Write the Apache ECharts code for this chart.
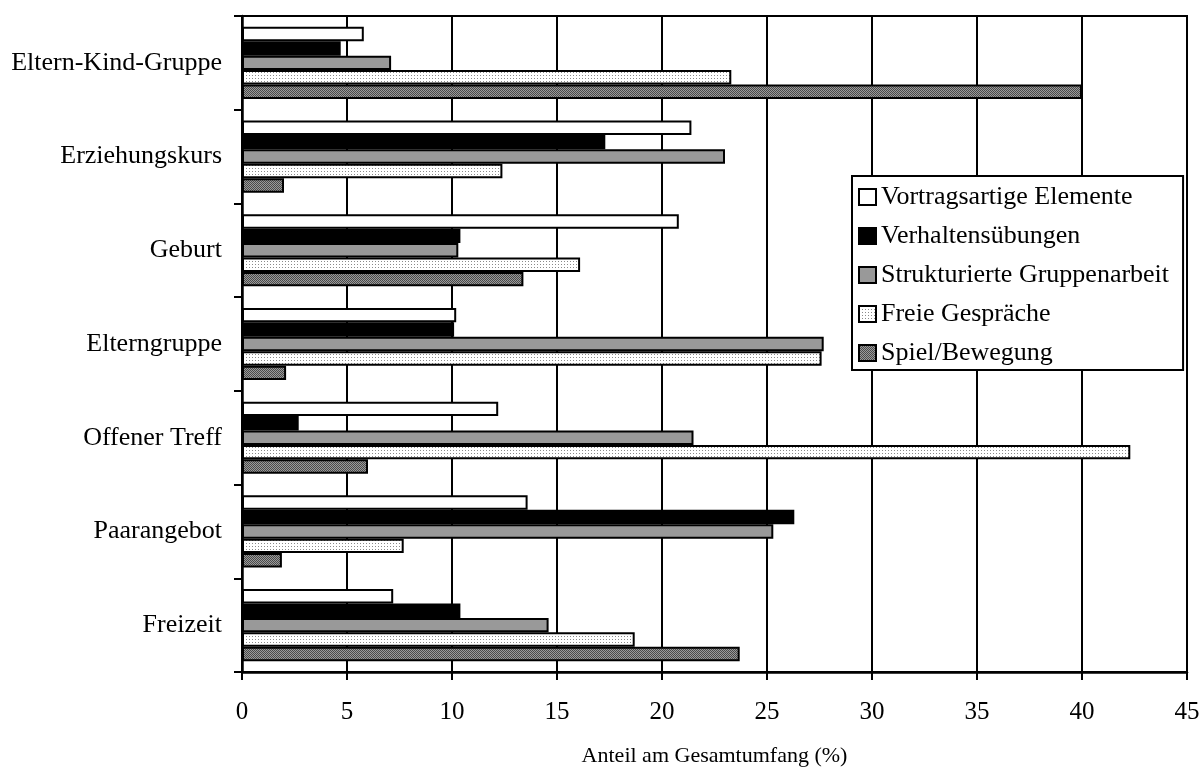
<!DOCTYPE html>
<html><head><meta charset="utf-8">
<script src="https://cdn.jsdelivr.net/npm/echarts@6/dist/echarts.min.js"></script>
<style>html,body{margin:0;padding:0;background:#fff}#c{width:1201px;height:770px}</style>
</head><body><div id="c"></div>
<script>
const categories = ['Eltern-Kind-Gruppe','Erziehungskurs','Geburt','Elterngruppe','Offener Treff','Paarangebot','Freizeit'];
const seriesNames = ['Vortragsartige Elemente','Verhaltensübungen','Strukturierte Gruppenarbeit','Freie Gespräche','Spiel/Bewegung'];
const vortrag   = [5.8, 21.4, 20.8, 10.2, 12.2, 13.6, 7.2];
const verhalten = [4.7, 17.3, 10.4, 10.1, 2.7, 26.3, 10.4];
const struktur  = [7.1, 23.0, 10.3, 27.7, 21.5, 25.3, 14.6];
const freie     = [23.3, 12.4, 16.1, 27.6, 42.3, 7.7, 18.7];
const spiel     = [40.0, 2.0, 13.4, 2.1, 6.0, 1.9, 23.7];
const xTicks = {min: 0, max: 45, interval: 5};
const axisTitle = 'Anteil am Gesamtumfang (%)';

function pattern(size, bg, dots) {
  const c = document.createElement('canvas');
  c.width = size; c.height = size;
  const g = c.getContext('2d');
  g.fillStyle = bg; g.fillRect(0, 0, size, size);
  dots.forEach(d => { g.fillStyle = d[2]; g.fillRect(d[0], d[1], 1, 1); });
  return {image: c, repeat: 'repeat'};
}
const lightPat = pattern(3, '#ffffff', [[0,0,'#8a8a8a']]);
const darkPat = pattern(2, '#9a9a9a', [[0,0,'#4a4a4a'],[1,1,'#4a4a4a']]);

const fills = ['#ffffff', '#000000', '#999999', lightPat, darkPat];
const values = [vortrag, verhalten, struktur, freie, spiel];
const font = 'Liberation Serif';

const chart = echarts.init(document.getElementById('c'), null, {renderer: 'canvas'});
chart.setOption({
  animation: false,
  backgroundColor: '#fff',
  textStyle: {fontFamily: font, color: '#000'},
  grid: {left: 242, right: 14, top: 16, bottom: 98, containLabel: false, outerBoundsMode: 'none',
         show: true, borderColor: '#000', borderWidth: 2, backgroundColor: 'transparent'},
  legend: {
    data: seriesNames.map(n => ({name: n, icon: 'rect'})),
    orient: 'vertical',
    left: 852, top: 176,
    itemWidth: 17, itemHeight: 16, itemGap: 13,
    padding: [8, 14, 4, 6],
    backgroundColor: '#fff', borderColor: '#000', borderWidth: 2,
    textStyle: {fontFamily: font, fontSize: 26, color: '#000'},
    itemStyle: {borderColor: '#000', borderWidth: 2},
    selectedMode: false
  },
  xAxis: {
    type: 'value', min: xTicks.min, max: xTicks.max, interval: xTicks.interval,
    name: axisTitle, nameLocation: 'middle', nameGap: 73,
    nameTextStyle: {fontFamily: font, fontSize: 22, color: '#000'},
    axisLine: {show: true, lineStyle: {color: '#000', width: 2.5}},
    axisTick: {show: true, length: 8, lineStyle: {color: '#000', width: 2}},
    axisLabel: {fontFamily: font, fontSize: 25, color: '#000', margin: 28},
    splitLine: {show: true, lineStyle: {color: '#000', width: 2}}
  },
  yAxis: {
    type: 'category', data: categories, inverse: true,
    axisLine: {show: true, lineStyle: {color: '#000', width: 2.5}},
    axisTick: {show: true, length: 8, lineStyle: {color: '#000', width: 2}},
    axisLabel: {fontFamily: font, fontSize: 26, color: '#000', margin: 20},
    splitLine: {show: false}
  },
  series: seriesNames.map((n, i) => ({
    name: n, type: 'bar', data: values[i],
    barGap: '0%', barCategoryGap: '23%',
    itemStyle: {color: fills[i], borderColor: '#000', borderWidth: 2},
    emphasis: {disabled: true}
  }))
});
</script></body></html>
